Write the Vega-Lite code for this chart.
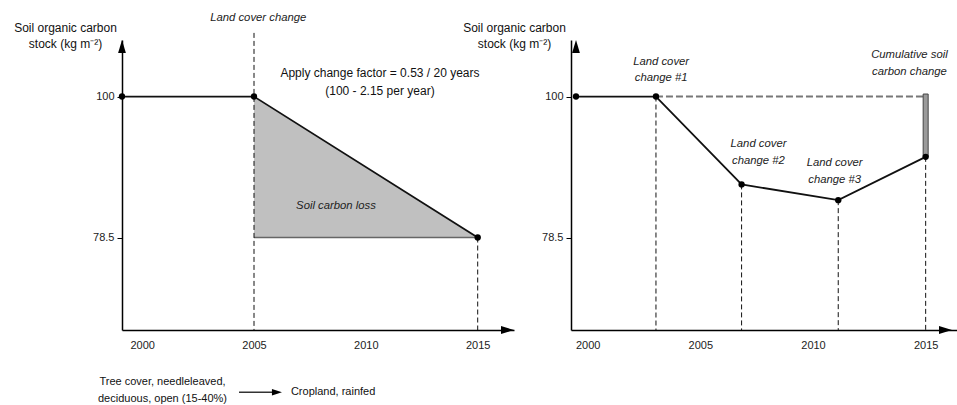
{
  "$schema": "https://vega.github.io/schema/vega-lite/v6.json",
  "autosize": {"type": "none"},
  "padding": {"left": 122, "top": 40, "right": 835, "bottom": 365},
  "bounds": "flush",
  "spacing": 57,
  "background": "white",
  "config": {
    "font": "Liberation Sans",
    "view": {"stroke": null},
    "axis": {"grid": false, "domainColor": "#000", "domainWidth": 1.5, "labelColor": "#222", "labelFont": "Liberation Sans", "labelFontSize": 11, "titleFont": "Liberation Sans", "titleFontSize": 12, "titleFontWeight": "normal", "titleColor": "#111", "labelFlush": false, "labelOverlap": false},
    "text": {"font": "Liberation Sans"}
  },
  "datasets": {
    "L_area": [{"x": 2005, "y": 100, "y2": 78.5}, {"x": 2015, "y": 78.5, "y2": 78.5}],
    "L_base": [{"x": 2005, "x2": 2015, "y": 78.5}],
    "L_vdash": [{"x": 2005, "y": 109.7, "y2": 64.4}, {"x": 2015, "y": 78.5, "y2": 64.4}],
    "L_line": [{"x": 1999.099, "y": 100}, {"x": 2005, "y": 100}, {"x": 2015, "y": 78.5}],
    "L_ital": [{"x": 2005.19, "y": 111.92, "t": "Land cover change"}, {"x": 2008.665, "y": 83.3, "t": "Soil carbon loss"}],
    "L_apply": [{"x": 2010.63, "y": 103.63, "t": "Apply change factor = 0.53 / 20 years\n(100 - 2.15 per year)"}],
    "L_bottom": [{"x": 2000.91, "y": 56.52, "t": "Tree cover, needleleaved,\ndeciduous, open (15-40%)"}],
    "L_crop": [{"x": 2006.65, "y": 54.9, "t": "Cropland, rainfed"}],
    "L_arrow_rule": [{"x": 2004.33, "x2": 2006.0, "y": 54.9}],
    "L_arrow_head": [{"x": 2006.25, "y": 54.9}],
    "L_ax_up": [{"x": 1999.099, "y": 108.62}],
    "L_ax_right": [{"x": 2016.623, "y": 64.4}],
    "R_hdash": [{"x": 2003.03, "x2": 2015, "y": 100}],
    "R_vdash": [{"x": 2003.03, "y": 100, "y2": 64.4}, {"x": 2006.83, "y": 86.6, "y2": 64.4}, {"x": 2011.12, "y": 84.2, "y2": 64.4}, {"x": 2015, "y": 90.8, "y2": 64.4}],
    "R_bar": [{"x": 2015, "y": 100.38, "y2": 90.8}],
    "R_line": [{"x": 1999.481, "y": 100}, {"x": 2003.03, "y": 100}, {"x": 2006.83, "y": 86.6}, {"x": 2011.12, "y": 84.2}, {"x": 2015, "y": 90.8}],
    "R_ital": [
      {"x": 2003.26, "y": 105.31, "t": "Land cover\nchange #1"},
      {"x": 2007.58, "y": 92.76, "t": "Land cover\nchange #2"},
      {"x": 2010.96, "y": 89.81, "t": "Land cover\nchange #3"},
      {"x": 2014.28, "y": 106.33, "t": "Cumulative soil\ncarbon change"}
    ],
    "R_ax_up": [{"x": 1999.481, "y": 108.62}],
    "R_ax_right": [{"x": 2016.169, "y": 64.4}]
  },
  "hconcat": [
    {
      "width": 392,
      "height": 290,
      "encoding": {
        "x": {"field": "x", "type": "quantitative", "scale": {"domain": [1999.099, 2016.623], "nice": false, "zero": false},
              "axis": {"values": [2000, 2005, 2010, 2015], "format": "d", "ticks": false, "tickSize": 0, "labelPadding": 9, "title": null}},
        "y": {"field": "y", "type": "quantitative", "scale": {"domain": [64.4, 108.62], "nice": false, "zero": false},
              "axis": {"values": [78.5, 100], "format": ".1~f", "ticks": true, "tickSize": 5, "tickColor": "#000", "tickWidth": 1, "labelPadding": 3,
                       "title": ["Soil organic carbon", "stock (kg m⁻²)"], "titleAngle": 0, "titleAlign": "center", "titleBaseline": "middle", "titleX": -57, "titleY": -13, "titleLineHeight": 16}}
      },
      "layer": [
        {"data": {"name": "L_area"}, "mark": {"type": "area", "fill": "#c0c0c0", "opacity": 1}, "encoding": {"y2": {"field": "y2"}}},
        {"data": {"name": "L_base"}, "mark": {"type": "rule", "color": "#666", "strokeWidth": 1.5}, "encoding": {"x2": {"field": "x2"}}},
        {"data": {"name": "L_vdash"}, "mark": {"type": "rule", "color": "#111", "strokeWidth": 1, "strokeDash": [5, 3]}, "encoding": {"y2": {"field": "y2"}}},
        {"data": {"name": "L_line"}, "mark": {"type": "line", "color": "#111", "strokeWidth": 1.8}, "encoding": {}},
        {"data": {"name": "L_line"}, "mark": {"type": "point", "filled": true, "color": "#000", "size": 40, "opacity": 1}},
        {"data": {"name": "L_ital"}, "mark": {"type": "text", "fontStyle": "italic", "fontSize": 11.3, "color": "#222", "align": "center", "baseline": "middle"}, "encoding": {"text": {"field": "t"}}},
        {"data": {"name": "L_apply"}, "mark": {"type": "text", "fontSize": 12, "color": "#111", "align": "center", "baseline": "middle", "lineBreak": "\n", "lineHeight": 18}, "encoding": {"text": {"field": "t"}}},
        {"data": {"name": "L_bottom"}, "mark": {"type": "text", "fontSize": 11, "color": "#111", "align": "center", "baseline": "middle", "lineBreak": "\n", "lineHeight": 17.3}, "encoding": {"text": {"field": "t"}}},
        {"data": {"name": "L_crop"}, "mark": {"type": "text", "fontSize": 11, "color": "#111", "align": "left", "baseline": "middle"}, "encoding": {"text": {"field": "t"}}},
        {"data": {"name": "L_arrow_rule"}, "mark": {"type": "rule", "color": "#333", "strokeWidth": 1.5}, "encoding": {"x2": {"field": "x2"}}},
        {"data": {"name": "L_arrow_head"}, "mark": {"type": "point", "filled": true, "color": "#000", "opacity": 1, "size": 100, "shape": "M0,0L-2,-0.65L-2,0.65Z"}},
        {"data": {"name": "L_ax_up"}, "mark": {"type": "point", "filled": true, "color": "#000", "opacity": 1, "size": 169, "shape": "M0,0L-0.6,2L0.6,2Z"}},
        {"data": {"name": "L_ax_right"}, "mark": {"type": "point", "filled": true, "color": "#000", "opacity": 1, "size": 169, "shape": "M0,0L-2,-0.6L-2,0.6Z"}}
      ]
    },
    {
      "width": 386,
      "height": 290,
      "encoding": {
        "x": {"field": "x", "type": "quantitative", "scale": {"domain": [1999.481, 2016.169], "nice": false, "zero": false},
              "axis": {"values": [2000, 2005, 2010, 2015], "format": "d", "ticks": false, "tickSize": 0, "labelPadding": 9, "title": null}},
        "y": {"field": "y", "type": "quantitative", "scale": {"domain": [64.4, 108.62], "nice": false, "zero": false},
              "axis": {"values": [78.5, 100], "format": ".1~f", "ticks": true, "tickSize": 5, "tickColor": "#000", "tickWidth": 1, "labelPadding": 3,
                       "title": ["Soil organic carbon", "stock (kg m⁻²)"], "titleAngle": 0, "titleAlign": "center", "titleBaseline": "middle", "titleX": -57, "titleY": -13, "titleLineHeight": 16}}
      },
      "layer": [
        {"data": {"name": "R_hdash"}, "mark": {"type": "rule", "color": "#777", "strokeWidth": 2, "strokeDash": [7, 3]}, "encoding": {"x2": {"field": "x2"}}},
        {"data": {"name": "R_vdash"}, "mark": {"type": "rule", "color": "#111", "strokeWidth": 1, "strokeDash": [5, 3]}, "encoding": {"y2": {"field": "y2"}}},
        {"data": {"name": "R_bar"}, "mark": {"type": "bar", "size": 5, "fill": "#9a9a9a", "stroke": "#444", "strokeWidth": 1}, "encoding": {"y2": {"field": "y2"}}},
        {"data": {"name": "R_line"}, "mark": {"type": "line", "color": "#111", "strokeWidth": 1.8}, "encoding": {}},
        {"data": {"name": "R_line"}, "mark": {"type": "point", "filled": true, "color": "#000", "size": 40, "opacity": 1}},
        {"data": {"name": "R_ital"}, "mark": {"type": "text", "fontStyle": "italic", "fontSize": 11.3, "color": "#222", "align": "center", "baseline": "middle", "lineBreak": "\n", "lineHeight": 16.6}, "encoding": {"text": {"field": "t"}}},
        {"data": {"name": "R_ax_up"}, "mark": {"type": "point", "filled": true, "color": "#000", "opacity": 1, "size": 169, "shape": "M0,0L-0.6,2L0.6,2Z"}},
        {"data": {"name": "R_ax_right"}, "mark": {"type": "point", "filled": true, "color": "#000", "opacity": 1, "size": 169, "shape": "M0,0L-2,-0.6L-2,0.6Z"}}
      ]
    }
  ]
}
